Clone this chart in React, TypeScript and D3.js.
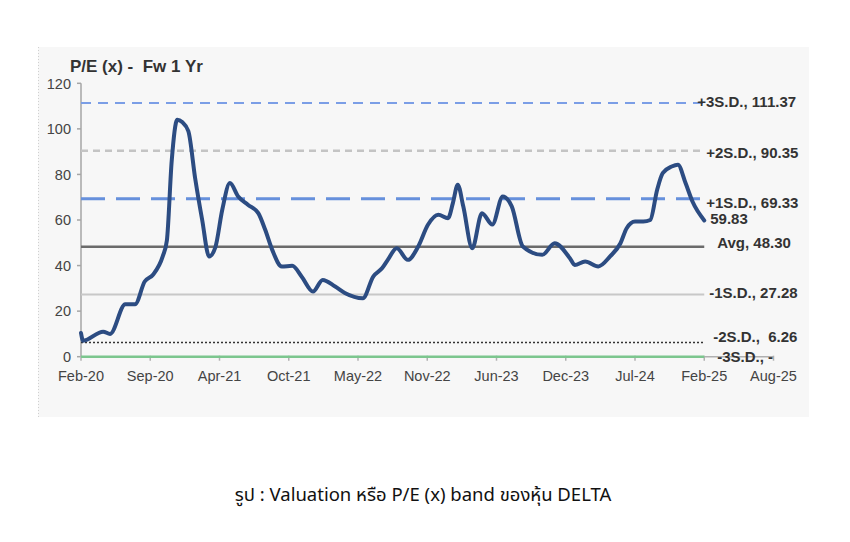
import React from "react";
import { scaleLinear, line, curveMonotoneX } from "d3";

// x positions are in "label intervals" (0 = Feb-20, 1 = Sep-20, ...)
const xTickLabels = ["Feb-20", "Sep-20", "Apr-21", "Oct-21", "May-22", "Nov-22", "Jun-23", "Dec-23", "Jul-24", "Feb-25", "Aug-25"];
const yTicks = [0, 20, 40, 60, 80, 100, 120];

const pePos = [
  0.0, 0.03, 0.32, 0.42, 0.64, 0.78, 0.92, 1.04, 1.18, 1.24, 1.31, 1.39, 1.46, 1.55, 1.65, 1.75, 1.85, 1.94,
  2.04, 2.15, 2.27, 2.41, 2.56, 2.66, 2.76, 2.9, 3.05, 3.19, 3.35, 3.49, 3.67, 3.81, 4.07, 4.22, 4.35, 4.43,
  4.56, 4.72, 4.87, 5.01, 5.16, 5.3, 5.37, 5.44, 5.52, 5.65, 5.79, 5.94, 6.09, 6.22, 6.38, 6.66, 6.84, 7.06,
  7.13, 7.28, 7.47, 7.64, 7.79, 7.88, 8.0, 8.12, 8.22, 8.32, 8.4, 8.53, 8.62, 8.73, 8.83, 9.0,
];
const peValues = [
  10.4, 7.0, 11, 10, 23, 23, 33, 36, 44, 51, 86, 104, 103, 99, 78, 60, 44, 48,
  64.5, 76.2, 70.3, 66.7, 63, 55.7, 47, 39.6, 39.9, 35, 28.6, 33.7, 30.8, 28, 25.7, 35.2, 38.9, 42.5,
  47.6, 42.5, 48.4, 57.9, 62.3, 60.8, 67.4, 75.5, 66, 47.6, 63, 58, 70.3, 66, 48.4, 44.7, 49.8, 43.2,
  40.3, 41.8, 39.6, 44, 49.8, 56.4, 59.3, 59.3, 60, 73.3, 80.6, 83.5, 84.3, 76.2, 68.1, 59.83,
];

const bandNames = ["+3S.D.", "+2S.D.", "+1S.D.", "Avg", "-1S.D.", "-2S.D.", "-3S.D."];
const bandValues = [111.37, 90.35, 69.33, 48.3, 27.28, 6.26, 0];
const bandLabels = ["+3S.D., 111.37", "+2S.D., 90.35", "+1S.D., 69.33", "Avg, 48.30", "-1S.D., 27.28", "-2S.D.,  6.26", "-3S.D., -"];

const lastLabel = "59.83";

// line styles for each band
const bandStyle: Record<string, { stroke: string; width: number; dash?: string }> = {
  "+3S.D.": { stroke: "#7b9ee6", width: 2, dash: "10,7" },
  "+2S.D.": { stroke: "#c4c4c4", width: 2.5, dash: "7,5" },
  "+1S.D.": { stroke: "#6690dc", width: 3, dash: "24,11" },
  Avg: { stroke: "#6b6b6b", width: 2.5 },
  "-1S.D.": { stroke: "#c8c8c8", width: 2 },
  "-2S.D.": { stroke: "#333", width: 1.5, dash: "2,2" },
  "-3S.D.": { stroke: "#7cc68e", width: 2.5 },
};
// label offsets from the end of the band line
const labelNudge: Record<string, [number, number]> = {
  "+3S.D.": [-7, -1],
  "+2S.D.": [2, 2],
  "+1S.D.": [2, 4],
  Avg: [13, -4],
  "-1S.D.": [5, -1.5],
  "-2S.D.": [9, -5.5],
  "-3S.D.": [13, 0],
};

export default function App() {
  const W = 850;
  const H = 542;
  const x = scaleLinear().domain([0, 10]).range([81, 773.5]);
  const y = scaleLinear().domain([0, 120]).range([356.7, 83.3]);

  const pts = pePos.map((p, i) => [p, peValues[i]] as [number, number]);
  const path = line<[number, number]>()
    .x((d) => x(d[0]))
    .y((d) => y(d[1]))
    .curve(curveMonotoneX)(pts);

  const lineEnd = x(9);
  const font = "'Liberation Sans', Arial, sans-serif";

  return (
    <svg width={W} height={H} style={{ position: "absolute", left: 0, top: 0, background: "#fff" }}>
      {/* chart panel */}
      <rect x={38} y={47} width={771} height={370} fill="#f7f7f7" />
      <line x1={38.5} y1={47} x2={38.5} y2={417} stroke="#d0d0d0" strokeDasharray="1,2" />

      <text x={70} y={72} fontFamily={font} fontWeight="bold" fontSize={17} fill="#333" style={{ whiteSpace: "pre" }}>
        {"P/E (x) -  Fw 1 Yr"}
      </text>

      {/* y axis */}
      <line x1={81} x2={81} y1={y(120)} y2={y(0)} stroke="#a6a6a6" strokeWidth={1.5} />
      {yTicks.map((t) => (
        <g key={t}>
          <line x1={77} x2={81} y1={y(t)} y2={y(t)} stroke="#a6a6a6" strokeWidth={1.5} />
          <text x={71} y={y(t)} dy="0.36em" textAnchor="end" fontFamily={font} fontSize={14.5} fill="#444">
            {t}
          </text>
        </g>
      ))}

      {/* x axis */}
      <line x1={x(0)} x2={x(10)} y1={y(0)} y2={y(0)} stroke="#b0b0b0" strokeWidth={1.5} />
      {xTickLabels.map((lab, i) => (
        <g key={lab}>
          <line x1={x(i)} x2={x(i)} y1={y(0) - 1} y2={y(0) + 4} stroke="#b0b0b0" strokeWidth={1.5} />
          <text x={x(i)} y={376} dy="0.36em" textAnchor="middle" fontFamily={font} fontSize={14.5} fill="#444">
            {lab}
          </text>
        </g>
      ))}

      {/* S.D. bands */}
      {bandNames.map((name, i) => {
        const s = bandStyle[name];
        return (
          <line
            key={name}
            x1={x(0)}
            x2={lineEnd}
            y1={y(bandValues[i])}
            y2={y(bandValues[i])}
            stroke={s.stroke}
            strokeWidth={s.width}
            strokeDasharray={s.dash}
          />
        );
      })}

      {/* P/E line */}
      <path d={path ?? ""} fill="none" stroke="#2c4c82" strokeWidth={4} strokeLinejoin="round" strokeLinecap="round" />

      {/* band labels */}
      {bandNames.map((name, i) => {
        const [dx, dy] = labelNudge[name];
        return (
          <text
            key={name}
            x={lineEnd + dx}
            y={y(bandValues[i]) + dy}
            dy="0.36em"
            fontFamily={font}
            fontWeight="bold"
            fontSize={15}
            fill="#333"
            style={{ whiteSpace: "pre" }}
          >
            {bandLabels[i]}
          </text>
        );
      })}
      <text
        x={lineEnd + 6}
        y={y(peValues[peValues.length - 1]) - 1.5}
        dy="0.36em"
        fontFamily={font}
        fontWeight="bold"
        fontSize={15}
        fill="#333"
      >
        {lastLabel}
      </text>

      {/* caption */}
      <text x={423} y={501} textAnchor="middle" fontFamily="Tahoma, 'Noto Sans Thai', 'Noto Sans', 'DejaVu Sans', sans-serif" fontSize={18.5} fill="#111">
        รูป : Valuation หรือ P/E (x) band ของหุ้น DELTA
      </text>
    </svg>
  );
}
